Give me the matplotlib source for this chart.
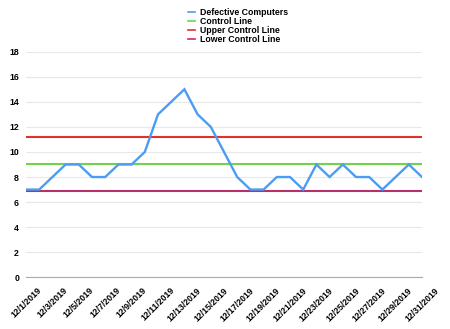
import matplotlib
matplotlib.use("Agg")
import matplotlib.pyplot as plt
import numpy as np

dates = [f"12/{d}/2019" for d in range(1, 32)]
defective = [7, 7, 8, 9, 9, 8, 8, 9, 9, 10, 13, 14, 15, 13, 12, 10,
             8, 7, 7, 8, 8, 7, 9, 8, 9, 8, 8, 7, 8, 9, 8]
control_line = 9.03
upper_control = 11.18
lower_control = 6.88
y_ticks = [0, 2, 4, 6, 8, 10, 12, 14, 16, 18]

plt.rcParams['font.family'] = ['Liberation Sans', 'DejaVu Sans']

fig = plt.figure(figsize=(4.5, 3.29), dpi=100)
ax = fig.add_axes([26/450, 1-277.3/329, (422-26)/450, (277.3-51.7)/329])

x = np.arange(len(dates))
ax.plot(x, defective, color='#4b9cf5', lw=1.7, label='Defective Computers', zorder=4, solid_joinstyle='miter')
ax.plot(x, [control_line]*len(x), color='#72d24a', lw=1.5, label='Control Line', zorder=3)
ax.plot(x, [upper_control]*len(x), color='#e2302a', lw=1.5, label='Upper Control Line', zorder=3)
ax.plot(x, [lower_control]*len(x), color='#b8306a', lw=1.5, label='Lower Control Line', zorder=3)

ax.set_xlim(0, len(x)-1)
ax.set_ylim(0, 18)
ax.set_yticks(y_ticks)
ax.set_yticklabels([str(v) for v in y_ticks], fontsize=6.3, fontweight='bold')
ax.set_xticks(x[::2])
ax.set_xticklabels(dates[::2], rotation=45, ha='center', fontsize=6.3, fontweight='bold')
ax.tick_params(axis='both', length=0, pad=5)
ax.tick_params(axis='x', pad=6)
ax.grid(axis='y', color='#e8e8e8', lw=0.8)
ax.set_axisbelow(True)
for s in ['top', 'right', 'left']:
    ax.spines[s].set_visible(False)
ax.spines['bottom'].set_color('#aaaaaa')
ax.spines['bottom'].set_linewidth(0.8)

leg = fig.legend(loc='upper left', bbox_to_anchor=(184/450, 1-4/329), frameon=False,
                 prop={'size': 6.3, 'weight': 'bold'}, handlelength=0.8, handletextpad=0.5,
                 labelspacing=0.0, borderpad=0)
for ln in leg.get_lines():
    ln.set_linewidth(1.2)
leg.get_lines()[3].set_color('#d8226a')

fig.savefig('out.png', dpi=100)
